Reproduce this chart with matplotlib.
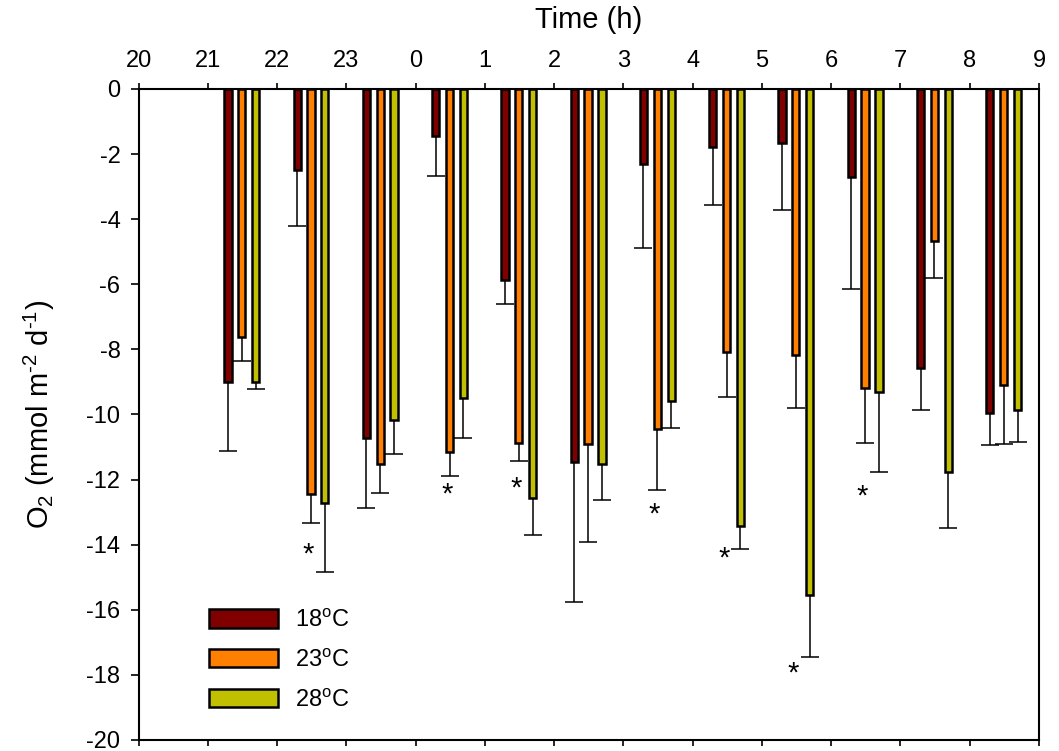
import matplotlib
matplotlib.use("Agg")
from matplotlib import pyplot as plt
import numpy as np

plt.rcParams['font.family'] = ['Liberation Sans', 'DejaVu Sans']
plt.rcParams['mathtext.fontset'] = 'custom'
plt.rcParams['mathtext.rm'] = 'Liberation Sans'
plt.rcParams['mathtext.it'] = 'Liberation Sans'
plt.rcParams['axes.unicode_minus'] = False

# hour labels along the top axis (20:00 .. 09:00)
hourLabels = ['20', '21', '22', '23', '0', '1', '2', '3', '4', '5', '6', '7', '8', '9']
# groups start at 21h, 22h, ..., 8h
groupStart = np.arange(1, 13)

series = ['18$^{\\mathrm{o}}$C', '23$^{\\mathrm{o}}$C', '28$^{\\mathrm{o}}$C']
colors = ['#800000', '#FF8000', '#C0C000']

# mean O2 flux per hour, mmol m-2 d-1
o2_18 = [-9.0, -2.49, -10.71, -1.44, -5.87, -11.47, -2.30, -1.77, -1.65, -2.71, -8.56, -9.94]
o2_23 = [-7.61, -12.45, -11.53, -11.14, -10.87, -10.92, -10.46, -8.07, -8.17, -9.20, -4.67, -9.08]
o2_28 = [-9.0, -12.73, -10.16, -9.50, -12.58, -11.53, -9.60, -13.42, -15.55, -9.32, -11.78, -9.86]

# one sided error (drawn downwards)
err_18 = [2.13, 1.72, 2.15, 1.22, 0.73, 4.30, 2.60, 1.80, 2.07, 3.43, 1.30, 1.00]
err_23 = [0.74, 0.88, 0.89, 0.74, 0.57, 3.01, 1.85, 1.39, 1.64, 1.67, 1.13, 1.82]
err_28 = [0.22, 2.12, 1.05, 1.23, 1.13, 1.10, 0.81, 0.72, 1.90, 2.44, 1.72, 0.98]

# significance stars: group index and y position
starGroup = [1, 3, 4, 6, 7, 8, 9]
starY = [-14.1, -12.25, -12.07, -12.85, -14.2, -17.75, -12.3]

means = [o2_18, o2_23, o2_28]
errs = [err_18, err_23, err_28]
offsets = [0.29, 0.49, 0.69]
barWidth = 0.105

fig = plt.figure(figsize=(10.59, 7.51), dpi=100)
ax = fig.add_axes([0.1308, 0.0147, 0.8503, 0.8668])

for s in range(3):
    xpos = groupStart + offsets[s]
    ax.bar(xpos, means[s], width=barWidth, color=colors[s], edgecolor='black',
           linewidth=1.8, label=series[s], zorder=3)
    lower = np.array(errs[s])
    eb = ax.errorbar(xpos, means[s], yerr=[lower, np.zeros_like(lower)], fmt='none',
                     ecolor='black', elinewidth=1.1, capsize=6.5, capthick=1.1, zorder=2)
    # hide the cap at the bar end, only the lower one is wanted
    eb[1][1].set_visible(False)

for g, y in zip(starGroup, starY):
    ax.annotate('*', (groupStart[g] + 0.45, y), xytext=(0, -5), textcoords='offset points',
                ha='center', va='center', fontsize=21)

ax.set_xlim(0, 13)
ax.set_ylim(-20, 0)
ax.set_xticks(np.arange(0, 14))
ax.set_xticklabels(hourLabels)
ax.set_yticks(np.arange(-20, 1, 2))
ax.xaxis.set_label_position('top')
ax.tick_params(axis='x', top=True, labeltop=True, bottom=True, labelbottom=False,
               direction='out', length=4, width=1.2, labelsize=17, pad=8)
ax.tick_params(axis='y', direction='out', length=6, width=1.2, labelsize=17, pad=7)
for sp in ax.spines.values():
    sp.set_linewidth(1.5)

ax.set_xlabel('Time (h)', fontsize=21, labelpad=16)
ax.set_ylabel('O$_2$ (mmol m$^{\\text{-}2}$ d$^{\\text{-}1}$)', fontsize=21, labelpad=21)

ax.legend(loc='upper left', bbox_to_anchor=(0.078, 0.2005), frameon=False,
          fontsize=17, handlelength=2.95, handleheight=0.8, handletextpad=0.7,
          labelspacing=0.75, borderaxespad=0, borderpad=0)

fig.savefig('out.png', dpi=100)
